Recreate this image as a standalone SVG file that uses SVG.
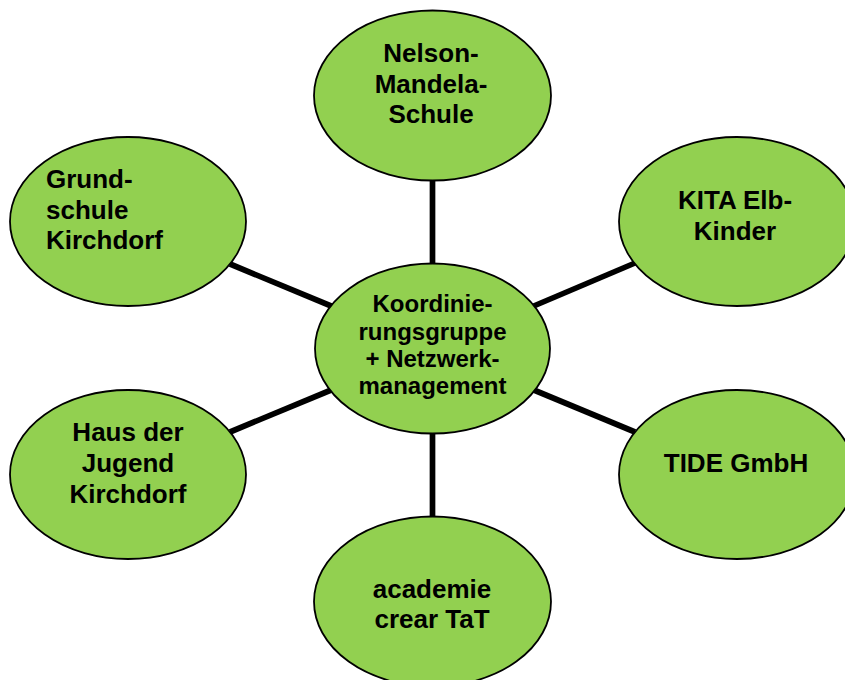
<svg xmlns="http://www.w3.org/2000/svg" width="845" height="680" viewBox="0 0 845 680">
<style>
.n{fill:#92D050;stroke:#000;stroke-width:1.8}
.t{font-family:"Liberation Sans",Arial,sans-serif;font-weight:bold;font-size:26px;fill:#000;text-anchor:middle}
.c{font-size:24px}
.l{text-anchor:start}
.e{stroke:#000;stroke-width:5.7;fill:none}
</style>
<rect width="845" height="680" fill="#fff"/>
<g id="connectors">
<line class="e" x1="432.5" y1="175" x2="432.5" y2="270"/>
<line class="e" x1="432.5" y1="428" x2="432.5" y2="522"/>
<line class="e" x1="230" y1="264" x2="336" y2="308"/>
<line class="e" x1="230" y1="432" x2="336" y2="388"/>
<line class="e" x1="529" y1="308" x2="635" y2="263"/>
<line class="e" x1="529" y1="388" x2="635" y2="432"/>
</g>
<g id="center">
<ellipse class="n" cx="432.5" cy="348.5" rx="117.5" ry="85"/>
<text class="t c" x="432.5"><tspan x="432.5" y="312">Koordinie-</tspan><tspan x="432.5" y="339.5">rungsgruppe</tspan><tspan x="432.5" y="367">+ Netzwerk-</tspan><tspan x="432.5" y="394">management</tspan></text>
</g>
<g id="nelson">
<ellipse class="n" cx="432.5" cy="95.5" rx="118.5" ry="85"/>
<text class="t"><tspan x="431" y="62">Nelson-</tspan><tspan x="431" y="92.5">Mandela-</tspan><tspan x="431" y="123">Schule</tspan></text>
</g>
<g id="grundschule">
<ellipse class="n" cx="128" cy="221.5" rx="118" ry="84.5"/>
<text class="t l"><tspan x="46" y="188">Grund-</tspan><tspan x="46" y="218.5">schule</tspan><tspan x="46" y="249">Kirchdorf</tspan></text>
</g>
<g id="kita">
<ellipse class="n" cx="737" cy="221.5" rx="118" ry="84.5"/>
<text class="t"><tspan x="735" y="209">KITA Elb-</tspan><tspan x="735" y="240">Kinder</tspan></text>
</g>
<g id="tide">
<ellipse class="n" cx="737" cy="474.5" rx="118" ry="84.5"/>
<text class="t" x="736" y="472">TIDE GmbH</text>
</g>
<g id="haus">
<ellipse class="n" cx="128" cy="474.5" rx="118" ry="84.5"/>
<text class="t"><tspan x="128" y="441">Haus der</tspan><tspan x="128" y="471.5">Jugend</tspan><tspan x="128" y="502.5">Kirchdorf</tspan></text>
</g>
<g id="academie">
<ellipse class="n" cx="432.5" cy="601.5" rx="118.5" ry="85"/>
<text class="t"><tspan x="432" y="598">academie</tspan><tspan x="432" y="628">crear TaT</tspan></text>
</g>
</svg>
